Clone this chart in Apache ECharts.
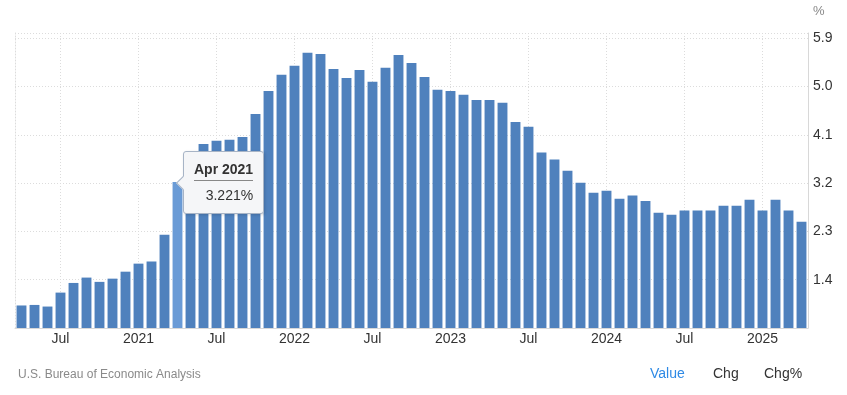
<!DOCTYPE html>
<html><head><meta charset="utf-8">
<script src="https://cdn.jsdelivr.net/npm/echarts@6/dist/echarts.min.js"></script>
<style>html,body{margin:0;padding:0;background:#fff}#c{width:847px;height:395px}</style>
</head><body><div id="c"></div>
<script>
const categories = [
 'Apr 2020','May 2020','Jun 2020','Jul 2020','Aug 2020','Sep 2020','Oct 2020','Nov 2020','Dec 2020',
 'Jan 2021','Feb 2021','Mar 2021','Apr 2021','May 2021','Jun 2021','Jul 2021','Aug 2021','Sep 2021','Oct 2021','Nov 2021','Dec 2021',
 'Jan 2022','Feb 2022','Mar 2022','Apr 2022','May 2022','Jun 2022','Jul 2022','Aug 2022','Sep 2022','Oct 2022','Nov 2022','Dec 2022',
 'Jan 2023','Feb 2023','Mar 2023','Apr 2023','May 2023','Jun 2023','Jul 2023','Aug 2023','Sep 2023','Oct 2023','Nov 2023','Dec 2023',
 'Jan 2024','Feb 2024','Mar 2024','Apr 2024','May 2024','Jun 2024','Jul 2024','Aug 2024','Sep 2024','Oct 2024','Nov 2024','Dec 2024',
 'Jan 2025','Feb 2025','Mar 2025','Apr 2025'
];
const values = [
 0.92,0.93,0.90,1.16,1.34,1.44,1.36,1.42,1.55,
 1.70,1.74,2.24,3.221,3.60,3.93,3.99,4.01,4.06,4.49,4.92,5.22,
 5.39,5.63,5.61,5.33,5.16,5.31,5.09,5.35,5.59,5.44,5.18,4.94,
 4.92,4.85,4.75,4.75,4.70,4.34,4.25,3.77,3.64,3.43,3.21,3.02,
 3.06,2.91,2.97,2.87,2.65,2.61,2.69,2.69,2.69,2.78,2.78,2.89,
 2.69,2.89,2.69,2.48
];
const yTickLabels = ['1.4','2.3','3.2','4.1','5.0','5.9'];
const AXIS_BASE = 0.5;   // value at the bottom of the value axis
const AXIS_TOP = 6.0;
const TICK_STEP = 0.9;
const highlightIndex = 12;

function isLabelMonth(i){ const m = categories[i].slice(0,3); return m === 'Jan' || m === 'Jul'; }
function xLabel(cat){ const m = cat.slice(0,3); return m === 'Jan' ? cat.slice(4) : m; }

const chart = echarts.init(document.getElementById('c'), null, {renderer:'canvas'});
const font = '"Liberation Sans", Arial, sans-serif';
const seriesData = values.map((v,i) => {
  const item = {value: +(v - AXIS_BASE).toFixed(4)};
  if (i === highlightIndex) item.itemStyle = {color:'#6a9bd6'};
  return item;
});

chart.setOption({
  animation:false,
  textStyle:{fontFamily:font},
  grid:{left:15,right:39,top:33,bottom:67,containLabel:false},
  xAxis:{
    type:'category', data:categories, boundaryGap:true,
    axisLine:{show:true,lineStyle:{color:'#d8d8d8',width:1}},
    axisTick:{show:false, alignWithLabel:true, interval:(i)=>isLabelMonth(i)},
    axisLabel:{interval:(i)=>isLabelMonth(i), formatter:xLabel, color:'#333', fontSize:14, margin:4, fontFamily:font},
    splitLine:{show:true, alignWithLabel:true, interval:(i)=>isLabelMonth(i), lineStyle:{color:'#dcdcdc',type:[1,2],width:1}}
  },
  yAxis:[{
    type:'value', position:'right', min:0, max:AXIS_TOP-AXIS_BASE, interval:TICK_STEP,
    name:'%', nameLocation:'end', nameGap:15,
    nameTextStyle:{color:'#888',fontSize:13,align:'left',padding:[0,0,0,5],fontFamily:font},
    axisLine:{show:true,lineStyle:{color:'#d8d8d8'}},
    axisTick:{show:false},
    axisLabel:{color:'#333',fontSize:14,margin:5,fontFamily:font,
      formatter:(val)=>{ const s=(val+AXIS_BASE).toFixed(1); return yTickLabels.includes(s)?s:''; }},
    splitLine:{show:true,lineStyle:{color:'#dcdcdc',type:[1,2],width:1}}
  },{
    type:'value', position:'left', min:0, max:AXIS_TOP-AXIS_BASE,
    axisLine:{show:true,lineStyle:{color:'#dcdcdc',type:[1,2]}},
    axisTick:{show:false}, axisLabel:{show:false}, splitLine:{show:false}
  }],
  tooltip:{
    trigger:'item', triggerOn:'none', alwaysShowContent:true, transitionDuration:0,
    backgroundColor:'#f5f6f8', borderColor:'#a7b4c6', borderWidth:1, padding:[9,10,9,10],
    extraCssText:'border-radius:3px;box-shadow:1px 1px 3px rgba(0,0,0,0.15);',
    textStyle:{fontFamily:font},
    formatter:(p)=>{
      const v = values[p.dataIndex];
      return '<div style="position:relative;text-align:right;font-family:'+font.replace(/"/g,"'")+'">'+
        '<div style="position:absolute;left:-16px;top:17px;width:9px;height:9px;background:#f5f6f8;border-left:1px solid #a7b4c6;border-bottom:1px solid #a7b4c6;transform:rotate(45deg);"></div>'+
        '<div style="font-weight:bold;font-size:14px;color:#333;line-height:17px;border-bottom:1px solid #888;padding-bottom:2px;">'+categories[p.dataIndex]+'</div>'+
        '<div style="font-size:14px;color:#333;line-height:17px;margin-top:6px;">'+v.toFixed(3)+'%</div></div>';
    },
    position:(point, params, dom, rect, size)=>{
      const px = chart.convertToPixel({gridIndex:0},[params.dataIndex, values[params.dataIndex]-AXIS_BASE]);
      return [px[0]+5, px[1]-size.contentSize[1]/2];
    }
  },
  graphic:[
    {type:'text',left:18,top:369,style:{text:'U.S. Bureau of Economic Analysis',fill:'#8a8a8a',font:'12px '+font}},
    {type:'text',left:650,top:367,style:{text:'Value',fill:'#2f8ae5',font:'14px '+font}},
    {type:'text',left:713,top:367,style:{text:'Chg',fill:'#333',font:'14px '+font}},
    {type:'text',left:764,top:367,style:{text:'Chg%',fill:'#333',font:'14px '+font}}
  ],
  series:[{
    type:'bar', data:seriesData, barWidth:'76%', yAxisIndex:0,
    itemStyle:{color:'#4f81bd'}
  }]
});
chart.dispatchAction({type:'showTip', seriesIndex:0, dataIndex:highlightIndex});
</script></body></html>
